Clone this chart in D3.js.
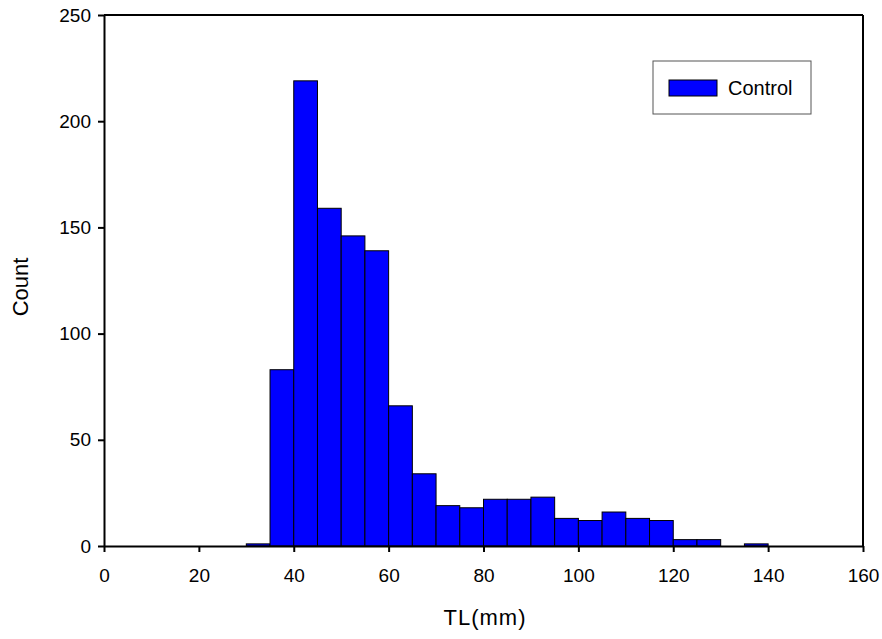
<!DOCTYPE html>
<html>
<head>
<meta charset="utf-8">
<script src="https://cdn.jsdelivr.net/npm/d3@7"></script>
<style>
  body { margin: 0; background: #fff; }
  svg { font-family: Arial, "Liberation Sans", sans-serif; }
</style>
</head>
<body>
<svg width="882" height="639"></svg>
<script>
const width = 882;
const height = 639;

// histogram bins (5 mm wide) and counts
const binStarts = [30, 35, 40, 45, 50, 55, 60, 65, 70, 75, 80, 85, 90, 95, 100, 105, 110, 115, 120, 125, 130, 135];
const counts    = [1, 83, 219, 159, 146, 139, 66, 34, 19, 18, 22, 22, 23, 13, 12, 16, 13, 12, 3, 3, 0, 1];
const binWidth = 5;
const xTicks = [0, 20, 40, 60, 80, 100, 120, 140, 160];
const yTicks = [0, 50, 100, 150, 200, 250];
const seriesName = 'Control';

const bins = binStarts.map((s, i) => ({x0: s, x1: s + binWidth, count: counts[i]}));

const plotLeft = 104, plotRight = 863, plotTop = 15, plotBottom = 546;

const xScale = d3.scaleLinear().domain([0, 160]).range([plotLeft, plotRight]);
const yScale = d3.scaleLinear().domain([0, 250]).range([plotBottom, plotTop]);

const svg = d3.select('svg');

// bars
svg.append('g')
    .selectAll('rect')
    .data(bins.filter(d => d.count > 0))
    .enter()
  .append('rect')
    .attr('x', d => xScale(d.x0))
    .attr('y', d => yScale(d.count))
    .attr('width', d => xScale(d.x1) - xScale(d.x0))
    .attr('height', d => yScale(0) - yScale(d.count))
    .attr('fill', '#0000ff')
    .attr('stroke', '#000')
    .attr('stroke-width', 1);

// frame top / right
svg.append('line')
    .attr('x1', plotLeft).attr('x2', plotRight).attr('y1', plotTop).attr('y2', plotTop)
    .attr('stroke', '#000').attr('stroke-width', 2);
svg.append('line')
    .attr('x1', plotRight).attr('x2', plotRight).attr('y1', plotTop).attr('y2', plotBottom)
    .attr('stroke', '#000').attr('stroke-width', 2);

const xAxis = d3.axisBottom(xScale).tickValues(xTicks).tickSize(6).tickSizeOuter(0).tickPadding(17);
const yAxis = d3.axisLeft(yScale).tickValues(yTicks).tickSize(6).tickSizeOuter(0).tickPadding(7);

const gx = svg.append('g')
    .attr('transform', `translate(0, ${plotBottom})`)
    .call(xAxis);
const gy = svg.append('g')
    .attr('transform', `translate(${plotLeft}, 0)`)
    .call(yAxis);

[gx, gy].forEach(g => {
    g.select('.domain').attr('stroke-width', 2);
    g.selectAll('.tick line').attr('stroke-width', 2);
    g.selectAll('.tick text')
        .style('font-family', 'Arial, "Liberation Sans", sans-serif')
        .style('font-size', '19px')
        .attr('fill', '#000');
});

// axis titles
svg.append('text')
    .attr('x', 485)
    .attr('y', 625)
    .style('text-anchor', 'middle')
    .style('font-size', '22px')
    .style('letter-spacing', '1px')
    .text('TL(mm)');

svg.append('text')
    .attr('transform', 'rotate(-90)')
    .attr('x', -287)
    .attr('y', 28)
    .style('text-anchor', 'middle')
    .style('font-size', '22px')
    .text('Count');

// legend
const legend = svg.append('g').attr('transform', 'translate(653, 61)');
legend.append('rect')
    .attr('width', 158).attr('height', 53)
    .attr('fill', '#fff').attr('stroke', '#555').attr('stroke-width', 1);
legend.append('rect')
    .attr('x', 16).attr('y', 19).attr('width', 48).attr('height', 16)
    .attr('fill', '#0000ff').attr('stroke', '#000').attr('stroke-width', 1);
legend.append('text')
    .attr('x', 75).attr('y', 34)
    .style('font-size', '20px')
    .text(seriesName);
</script>
</body>
</html>
